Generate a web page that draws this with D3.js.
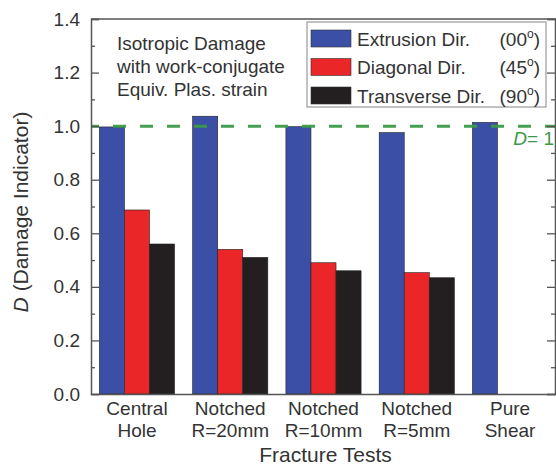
<!DOCTYPE html>
<html>
<head>
<meta charset="utf-8">
<script src="https://cdn.jsdelivr.net/npm/d3@7"></script>
<style>
  html, body { margin: 0; padding: 0; background: #fff; }
  svg { display: block; font-family: "Liberation Sans", Arial, Helvetica, sans-serif; }
</style>
</head>
<body>
<svg id="chart" width="556" height="470"></svg>
<script>
// ---- data ----
const categories = [["Central", "Hole"], ["Notched", "R=20mm"], ["Notched", "R=10mm"], ["Notched", "R=5mm"], ["Pure", "Shear"]];
const seriesNames = ["Extrusion Dir.", "Diagonal Dir.", "Transverse Dir."];
const seriesAngles = ["00", "45", "90"];
const extrusion = [0.997, 1.037, 0.998, 0.976, 1.014];
const diagonal = [0.687, 0.540, 0.490, 0.453, null];
const transverse = [0.560, 0.510, 0.460, 0.434, null];
const yTicks = [0, 0.2, 0.4, 0.6, 0.8, 1.0, 1.2, 1.4];
const yMinorTicks = [0.1, 0.3, 0.5, 0.7, 0.9, 1.1, 1.3];
const annotation = ["Isotropic Damage", "with work-conjugate", "Equiv. Plas. strain"];
const refValue = 1.0;

const colors = ["#3b4fa7", "#ea2629", "#231f20"];
const seriesValues = [extrusion, diagonal, transverse];

const svg = d3.select("#chart");
const L = 91, R = 556, T = 19, B = 394;
const textColor = "#333";
const axisColor = "#555";

const x = d3.scaleBand().domain(d3.range(categories.length)).range([L, R])
  .paddingInner(0.194).paddingOuter(0.09);
const xs = d3.scaleBand().domain(d3.range(seriesNames.length)).range([0, x.bandwidth()]);
const y = d3.scaleLinear().domain([0, 1.4]).range([B, T]);

// bars
seriesValues.forEach((vals, s) => {
  svg.append("g").selectAll("rect")
    .data(vals.map((v, i) => ({ v, i })).filter(d => d.v != null))
    .join("rect")
    .attr("x", d => x(d.i) + xs(s))
    .attr("y", d => y(d.v))
    .attr("width", xs.bandwidth())
    .attr("height", d => y(0) - y(d.v))
    .attr("fill", colors[s])
    .attr("stroke", "#222")
    .attr("stroke-width", 0.6);
});

// reference dashed line
svg.append("line")
  .attr("x1", L).attr("x2", R)
  .attr("y1", y(refValue)).attr("y2", y(refValue))
  .attr("stroke", "#3a9a48").attr("stroke-width", 3)
  .attr("stroke-dasharray", "13,14").attr("stroke-dashoffset", 5)
  .attr("opacity", 0.95);

const dLabel = svg.append("text")
  .attr("x", 554).attr("y", y(refValue) + 19).attr("text-anchor", "end")
  .attr("fill", "#3a9a48").attr("font-size", 19);
dLabel.append("tspan").attr("font-style", "italic").text("D");
dLabel.append("tspan").text("= 1");

// left axis
const yAxisL = d3.axisLeft(y).tickValues(yTicks).tickSize(-8).tickPadding(11)
  .tickFormat(d3.format(".1f"));
const gL = svg.append("g").attr("transform", `translate(${L},0)`).call(yAxisL);
gL.select(".domain").attr("stroke", axisColor).attr("stroke-width", 1.5);
gL.selectAll(".tick line").attr("stroke", axisColor).attr("stroke-width", 1.3);
gL.selectAll(".tick text").attr("fill", textColor).attr("font-size", 19)
  .attr("font-family", '"Liberation Sans", Arial, sans-serif');
const gLm = svg.append("g").attr("transform", `translate(${L},0)`)
  .call(d3.axisLeft(y).tickValues(yMinorTicks).tickSize(-4).tickFormat(""));
gLm.select(".domain").remove();
gLm.selectAll(".tick line").attr("stroke", axisColor).attr("stroke-width", 1.3);

// right axis
const gR = svg.append("g").attr("transform", `translate(${R - 1},0)`)
  .call(d3.axisRight(y).tickValues(yTicks).tickSize(-8).tickFormat(""));
gR.select(".domain").attr("stroke", axisColor).attr("stroke-width", 1.5);
gR.selectAll(".tick line").attr("stroke", axisColor).attr("stroke-width", 1.3);
const gRm = svg.append("g").attr("transform", `translate(${R - 1},0)`)
  .call(d3.axisRight(y).tickValues(yMinorTicks).tickSize(-4).tickFormat(""));
gRm.select(".domain").remove();
gRm.selectAll(".tick line").attr("stroke", axisColor).attr("stroke-width", 1.3);

// top frame line
svg.append("line").attr("x1", L).attr("x2", R).attr("y1", T).attr("y2", T)
  .attr("stroke", axisColor).attr("stroke-width", 1.5);

// bottom axis
const xAxis = d3.axisBottom(x).tickSize(0).tickFormat("");
const gB = svg.append("g").attr("transform", `translate(0,${B})`).call(xAxis);
gB.select(".domain").attr("stroke", axisColor).attr("stroke-width", 1.5);
gB.selectAll(".tick").each(function (d) {
  const t = d3.select(this).append("text")
    .attr("fill", textColor).attr("font-size", 19).attr("text-anchor", "middle")
    .attr("font-family", '"Liberation Sans", Arial, sans-serif');
  t.append("tspan").attr("x", 0).attr("y", 21).text(categories[d][0]);
  t.append("tspan").attr("x", 0).attr("y", 43).text(categories[d][1]);
});

// axis titles
svg.append("text")
  .attr("x", (L + R) / 2 + 2).attr("y", 462)
  .attr("text-anchor", "middle").attr("font-size", 21).attr("fill", textColor)
  .text("Fracture Tests");

const yt = svg.append("text")
  .attr("transform", `translate(28,${212}) rotate(-90)`)
  .attr("text-anchor", "middle").attr("font-size", 21).attr("fill", textColor);
yt.append("tspan").attr("font-style", "italic").text("D");
yt.append("tspan").text(" (Damage Indicator)");

// annotation
annotation.forEach((line, i) => {
  svg.append("text").attr("x", 117).attr("y", 50 + i * 23)
    .attr("font-size", 19).attr("fill", textColor).text(line);
});

// legend
const lg = svg.append("g");
lg.append("rect").attr("x", 307).attr("y", 22).attr("width", 239).attr("height", 85)
  .attr("fill", "#fff").attr("stroke", "#9a9a9a").attr("stroke-width", 1.2);
seriesNames.forEach((name, i) => {
  const yy = 30 + i * 28.5;
  lg.append("rect").attr("x", 311).attr("y", yy).attr("width", 40).attr("height", 17)
    .attr("fill", colors[i]).attr("stroke", "#333").attr("stroke-width", 0.6);
  lg.append("text").attr("x", 357).attr("y", yy + 15.5)
    .attr("font-size", 19).attr("fill", textColor).text(name);
  const at = lg.append("text").attr("x", 540).attr("y", yy + 15.5)
    .attr("text-anchor", "end").attr("font-size", 19).attr("fill", textColor);
  at.append("tspan").text("(" + seriesAngles[i]);
  at.append("tspan").attr("font-size", 12).attr("dy", -8).text("o");
  at.append("tspan").attr("dy", 8).text(")");
});
</script>
</body>
</html>
